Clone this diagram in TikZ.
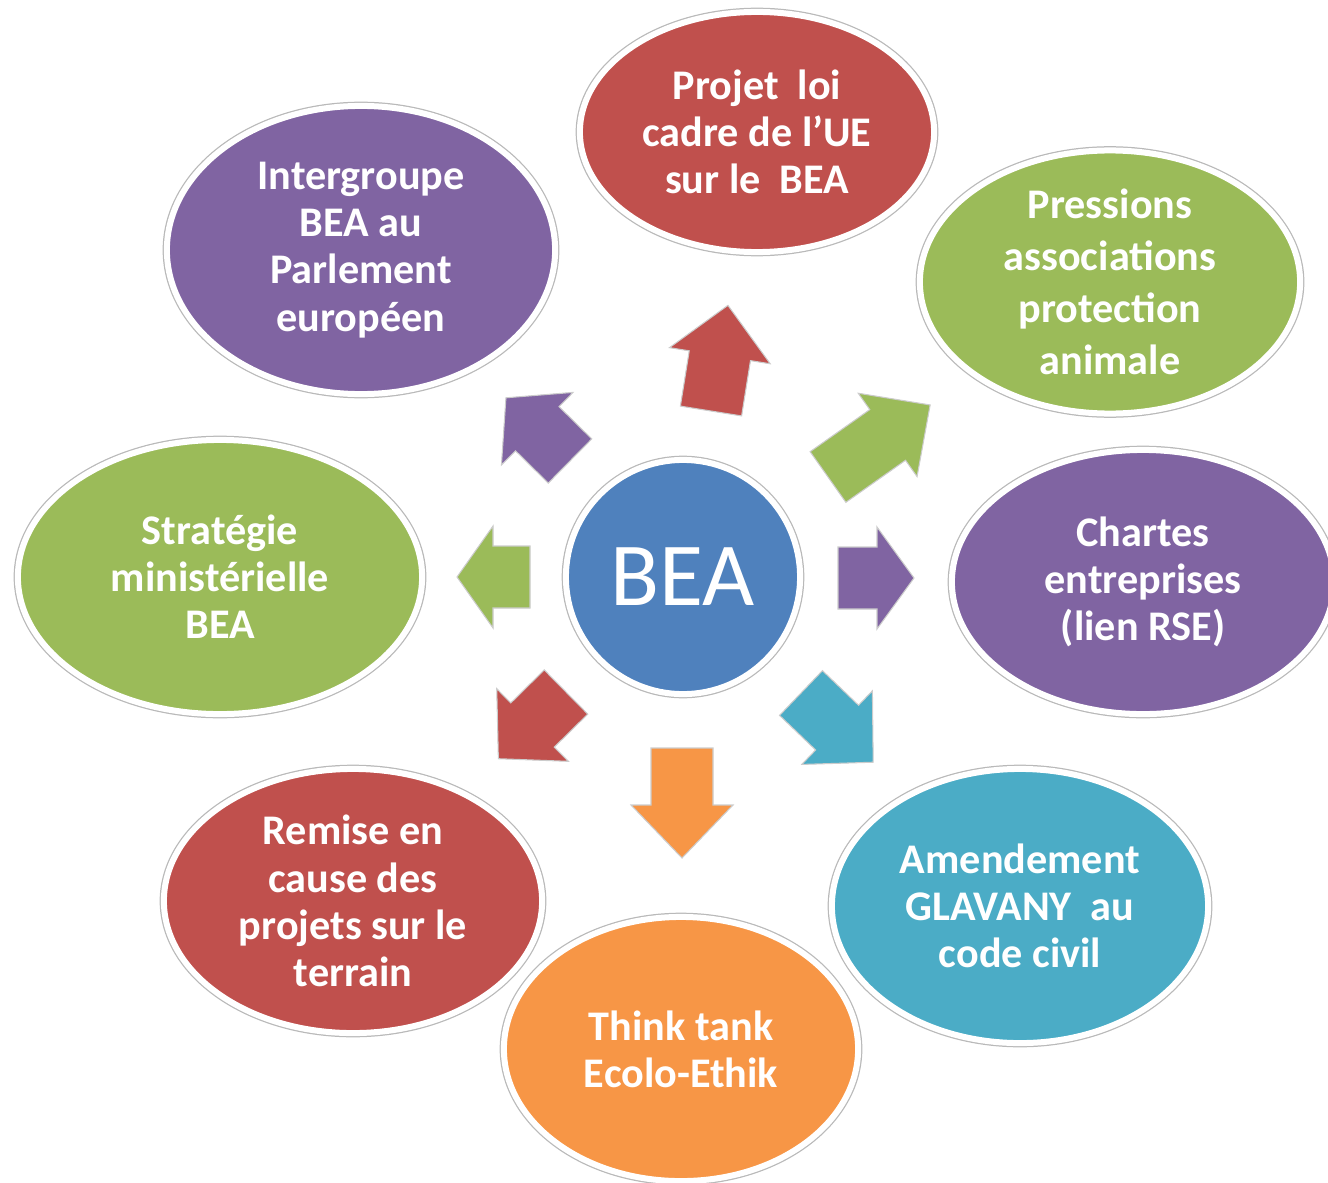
\documentclass[tikz,border=0pt]{standalone}
\usepackage{fontspec}
\setmainfont{Carlito}
\usetikzlibrary{shapes.geometric}
\definecolor{cred}{HTML}{C0504D}
\definecolor{cpurple}{HTML}{8064A2}
\definecolor{cgreen}{HTML}{9BBB59}
\definecolor{ccyan}{HTML}{4BACC6}
\definecolor{corange}{HTML}{F79646}
\definecolor{cblue}{HTML}{4F81BD}
\tikzset{
  bubble/.style={ellipse, inner sep=0pt, text=white, align=center,
    font=\bfseries\fontsize{12}{13.4}\selectfont,
    draw=white, line width=0.06cm,
    preaction={draw=gray!55, line width=0.085cm}},
  blockarrow/.style={draw=gray!40, line width=0.3pt}
}
\begin{document}
\begin{tikzpicture}[x=0.01cm,y=-0.01cm]
\useasboundingbox (0,0) rectangle (1328,1182);
% outer bubbles
\node[bubble, fill=cred, minimum width=3.54cm, minimum height=2.40cm] (proj) at (757,132)
  {Projet\ \ loi\\cadre de l’UE\\sur le\ \ BEA};
\node[bubble, fill=cpurple, minimum width=3.88cm, minimum height=2.88cm] (inter) at (361,250)
  {Intergroupe\\BEA au\\Parlement\\européen};
\node[bubble, fill=cgreen, minimum width=3.80cm, minimum height=2.50cm,
  font=\bfseries\fontsize{12}{14.8}\selectfont] (press) at (1110,282)
  {Pressions\\associations\\protection\\animale};
\node[bubble, fill=cgreen, minimum width=4.04cm, minimum height=2.74cm] (strat) at (220,577)
  {Stratégie\\ministérielle\\BEA};
\node[bubble, fill=cpurple, minimum width=3.82cm, minimum height=2.64cm] (chart) at (1143,582)
  {Chartes\\entreprises\\(lien RSE)};
\node[bubble, fill=cred, minimum width=3.78cm, minimum height=2.64cm] (remise) at (353,901)
  {Remise en\\cause des\\projets sur le\\terrain};
\node[bubble, fill=ccyan, minimum width=3.76cm, minimum height=2.74cm] (amend) at (1020,906)
  {Amendement\\GLAVANY\ \ au\\code civil};
\node[bubble, fill=corange, minimum width=3.54cm, minimum height=2.64cm] (think) at (681,1049)
  {Think tank\\Ecolo-Ethik};
% block arrows
\foreach \c/\x/\y/\a/\L/\h in {
  cred/711/411/80.9/107/51,
  cpurple/570/461/135.4/90/44,
  cgreen/828/477/35.2/125/52,
  cgreen/530/577/180/73/36,
  cpurple/838/578/0/76/37,
  cred/566/692/224.6/95/48,
  ccyan/801/693/-43.8/100/50,
  corange/682/748/-90/110/53}{
  \filldraw[blockarrow, fill=\c, shift={(\x,\y)}, rotate=\a]
    (0,-31) -- (\L-\h,-31) -- (\L-\h,-51) -- (\L,0) -- (\L-\h,51) -- (\L-\h,31) -- (0,31) -- cycle;
}
% center
\node[bubble, circle, fill=cblue, minimum size=2.34cm,
  font=\fontsize{25.6}{28}\selectfont] (bea) at (683,577) {BEA};
\end{tikzpicture}
\end{document}
